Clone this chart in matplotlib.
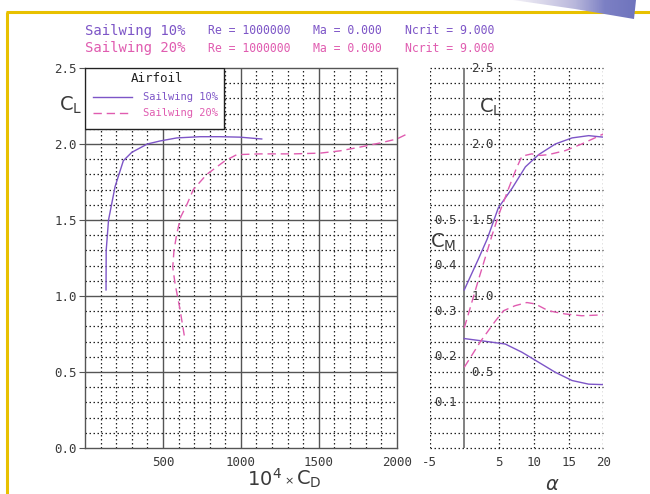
import matplotlib
matplotlib.use("Agg")
import matplotlib.pyplot as plt
import numpy as np
from matplotlib.patches import Rectangle, Polygon
from matplotlib.colors import LinearSegmentedColormap

# ---------------- data ----------------
series_names = ["Sailwing 10%", "Sailwing 20%"]
header_re = "Re = 1000000"
header_ma = "Ma = 0.000"
header_ncrit = "Ncrit = 9.000"

# drag polar: 10^4 * CD vs CL
cd_10 = [135, 136, 151, 193, 246, 300, 400, 482, 589, 738, 867, 995, 1134]
cl_10 = [1.04, 1.30, 1.50, 1.72, 1.89, 1.945, 2.00, 2.02, 2.04, 2.048, 2.048, 2.045, 2.033]

cd_20 = [637, 610, 578, 563, 571, 589, 614, 653, 695, 781, 899, 974, 1124, 1337, 1509, 1637, 1766, 1894, 2001, 2065]
cl_20 = [0.74, 0.91, 1.08, 1.19, 1.30, 1.41, 1.52, 1.60, 1.70, 1.80, 1.89, 1.93, 1.935, 1.935, 1.94, 1.955, 1.98, 2.007, 2.033, 2.065]

# lift curve: alpha vs CL
alpha_cl_10 = [0, 2, 3.3, 4.9, 6.9, 8.8, 10.7, 13.1, 15.5, 17.9, 20]
cl_a_10 = [1.04, 1.24, 1.375, 1.58, 1.71, 1.85, 1.93, 2.00, 2.04, 2.055, 2.045]

alpha_cl_20 = [0, 2, 4, 5, 6.4, 7.5, 8.3, 9.7, 11, 12.1, 14.5, 16.9, 20]
cl_a_20 = [0.79, 1.10, 1.40, 1.54, 1.71, 1.84, 1.92, 1.935, 1.925, 1.93, 1.956, 2.00, 2.066]

# moment curve: alpha vs CM
alpha_cm_10 = [0, 3.5, 5.9, 8.3, 10.7, 13.1, 15.5, 17.9, 20]
cm_10 = [0.240, 0.233, 0.228, 0.210, 0.188, 0.166, 0.148, 0.140, 0.139]

alpha_cm_20 = [0, 2.4, 4.5, 5.65, 7.3, 9.0, 10.2, 12.1, 14.5, 16.9, 20]
cm_20 = [0.177, 0.235, 0.279, 0.301, 0.312, 0.319, 0.316, 0.301, 0.294, 0.290, 0.292]

cd_ticks = [500, 1000, 1500, 2000]
cl_ticks = [0.0, 0.5, 1.0, 1.5, 2.0, 2.5]
alpha_ticks = [-5, 5, 10, 15, 20]
cl_inner_ticks = [0.5, 1.0, 1.5, 2.0, 2.5]
cm_ticks = [0.1, 0.2, 0.3, 0.4, 0.5]

# ---------------- style ----------------
PURPLE = "#7d55c7"
PINK = "#e05cb0"
GRID = "#222222"
MAJ = "#555555"
TXT = "#3a3a3a"
MONO = "DejaVu Sans Mono"
DOT = (0, (1.2, 2.0))
DASH = (0, (6, 3.5))

W, H = 650, 494
fig = plt.figure(figsize=(W / 100, H / 100), dpi=100)
fig.patch.set_facecolor("white")

def fx(px):
    return px / W

def fy(py):
    return 1 - py / H

# background overlay (border + decoration)
bg = fig.add_axes([0, 0, 1, 1], zorder=-5)
bg.set_xlim(0, W)
bg.set_ylim(H, 0)
bg.axis("off")
bg.plot([7, 7], [12, H], color="#e8c100", lw=2.2, solid_capstyle="butt")
bg.plot([6, W], [12, 12], color="#e8c100", lw=2.2, solid_capstyle="butt")
grad = np.linspace(0, 1, 200)[None, :]
cm_dec = LinearSegmentedColormap.from_list("dec", ["#f4f2f8", "#d8d6ea", "#b9b8dc", "#7c80c4", "#6f74bd"])
im = bg.imshow(grad, cmap=cm_dec, extent=(513, 636, 20, 0), aspect="auto", zorder=3)
poly = Polygon([(513, 0), (636, 0), (634, 19), (575, 9)], closed=True, transform=bg.transData,
               facecolor="none", edgecolor="none")
bg.add_patch(poly)
im.set_clip_path(poly)

# header
y1, y2 = 31, 48
fig.text(fx(85), fy(y1), series_names[0], color=PURPLE, family=MONO, fontsize=10, va="center")
fig.text(fx(85), fy(y2), series_names[1], color=PINK, family=MONO, fontsize=10, va="center")
for yy, col in ((y1, PURPLE), (y2, PINK)):
    fig.text(fx(208), fy(yy), header_re, color=col, family=MONO, fontsize=8.3, va="center")
    fig.text(fx(313), fy(yy), header_ma, color=col, family=MONO, fontsize=8.3, va="center")
    fig.text(fx(405), fy(yy), header_ncrit, color=col, family=MONO, fontsize=8.3, va="center")

# ---------------- left panel: drag polar ----------------
axL = fig.add_axes([fx(85), fy(448), fx(396.7) - fx(85), fy(68) - fy(448)])
axL.set_xlim(0, 2000)
axL.set_ylim(0, 2.5)
for v in np.arange(100, 2000, 100):
    if v % 500 == 0:
        axL.axvline(v, color=MAJ, lw=1.0, zorder=1)
    else:
        axL.axvline(v, color=GRID, lw=0.9, ls=DOT, zorder=1)
for v in np.arange(0.1, 2.5, 0.1):
    if abs(v * 2 - round(v * 2)) < 1e-6:
        axL.axhline(v, color=MAJ, lw=1.0, zorder=1)
    else:
        axL.axhline(v, color=GRID, lw=0.9, ls=DOT, zorder=1)
for s in axL.spines.values():
    s.set_color(MAJ)
    s.set_linewidth(1.0)
axL.set_xticks(cd_ticks)
axL.set_yticks(cl_ticks)
axL.set_yticklabels([f"{v:.1f}" for v in cl_ticks])
axL.tick_params(axis="both", direction="out", length=4, width=0.8, color=MAJ,
                labelsize=9, labelcolor=TXT, pad=2)
for lab in axL.get_xticklabels() + axL.get_yticklabels():
    lab.set_family(MONO)
axL.tick_params(axis="x", length=0, pad=6)

axL.plot(cd_10, cl_10, color=PURPLE, lw=1.0, zorder=3)
axL.plot(cd_20, cl_20, color=PINK, lw=1.0, ls=DASH, zorder=3, clip_on=False)

# legend box
axL.add_patch(Rectangle((0, 2.1), 894, 0.4, facecolor="white", edgecolor="#222222", lw=1.0, zorder=5))
axL.text(460, 2.43, "Airfoil", family=MONO, fontsize=9, color="#222222", ha="center", va="center", zorder=6)
axL.plot([51, 302], [2.31, 2.31], color=PURPLE, lw=1.0, zorder=6)
axL.plot([51, 302], [2.205, 2.205], color=PINK, lw=1.0, ls=DASH, zorder=6)
axL.text(372, 2.31, series_names[0], family=MONO, fontsize=7.5, color=PURPLE, va="center", zorder=6)
axL.text(372, 2.205, series_names[1], family=MONO, fontsize=7.5, color=PINK, va="center", zorder=6)

fig.text(fx(71), fy(105), r"$\mathregular{C_L}$", fontsize=14, color=TXT, ha="center", va="center")
fig.text(fx(282), fy(479), r"$\mathregular{10^4}$", fontsize=14, color=TXT, ha="right", va="center")
fig.text(fx(289), fy(481), "\u00d7", fontsize=8, color=TXT, ha="center", va="center")
fig.text(fx(296), fy(479), r"$\mathregular{C_D}$", fontsize=14, color=TXT, ha="left", va="center")

# ---------------- right panel: CL, CM vs alpha ----------------
axR = fig.add_axes([fx(429.5), fy(448), fx(603.3) - fx(429.5), fy(68) - fy(448)])
axR.set_xlim(-5, 20)
axR.set_ylim(0, 2.5)
for s in axR.spines.values():
    s.set_visible(False)
for v in [-5, 5, 10, 15, 20]:
    axR.axvline(v, color=GRID, lw=0.9, ls=DOT, zorder=1)
for v in np.arange(0.0, 2.51, 0.1):
    axR.axhline(v, color=GRID, lw=0.9, ls=DOT, zorder=1, clip_on=False)
axR.axvline(0, color="#777777", lw=1.3, zorder=2)
axR.set_xticks(alpha_ticks)
axR.set_xticklabels([str(a) for a in alpha_ticks])
axR.set_yticks([])
axR.tick_params(axis="x", length=0, pad=6, labelsize=9, labelcolor=TXT)
for lab in axR.get_xticklabels():
    lab.set_family(MONO)

for v in cl_inner_ticks:
    axR.text(1.0, v, f"{v:.1f}", family=MONO, fontsize=9, color=TXT, ha="left", va="center", zorder=4)
for v in cm_ticks:
    axR.text(-4.3, v * 3, f"{v:.1f}", family=MONO, fontsize=9, color=TXT, ha="left", va="center", zorder=4)

axR.plot(alpha_cl_10, cl_a_10, color=PURPLE, lw=1.0, zorder=3)
axR.plot(alpha_cl_20, cl_a_20, color=PINK, lw=1.0, ls=DASH, zorder=3)

axM = axR.twinx()
axM.set_ylim(0, 2.5 / 3)
axM.set_xlim(-5, 20)
axM.axis("off")
axM.plot(alpha_cm_10, cm_10, color=PURPLE, lw=1.0, zorder=3)
axM.plot(alpha_cm_20, cm_20, color=PINK, lw=1.0, ls=DASH, zorder=3)

fig.text(fx(491), fy(107), r"$\mathregular{C_L}$", fontsize=14, color=TXT, ha="center", va="center")
fig.text(fx(443), fy(242), r"$\mathregular{C_M}$", fontsize=14, color=TXT, ha="center", va="center")
fig.text(fx(552), fy(484), r"$\alpha$", fontsize=14, color=TXT, ha="center", va="center")

fig.savefig("out.png", dpi=100, facecolor="white")
